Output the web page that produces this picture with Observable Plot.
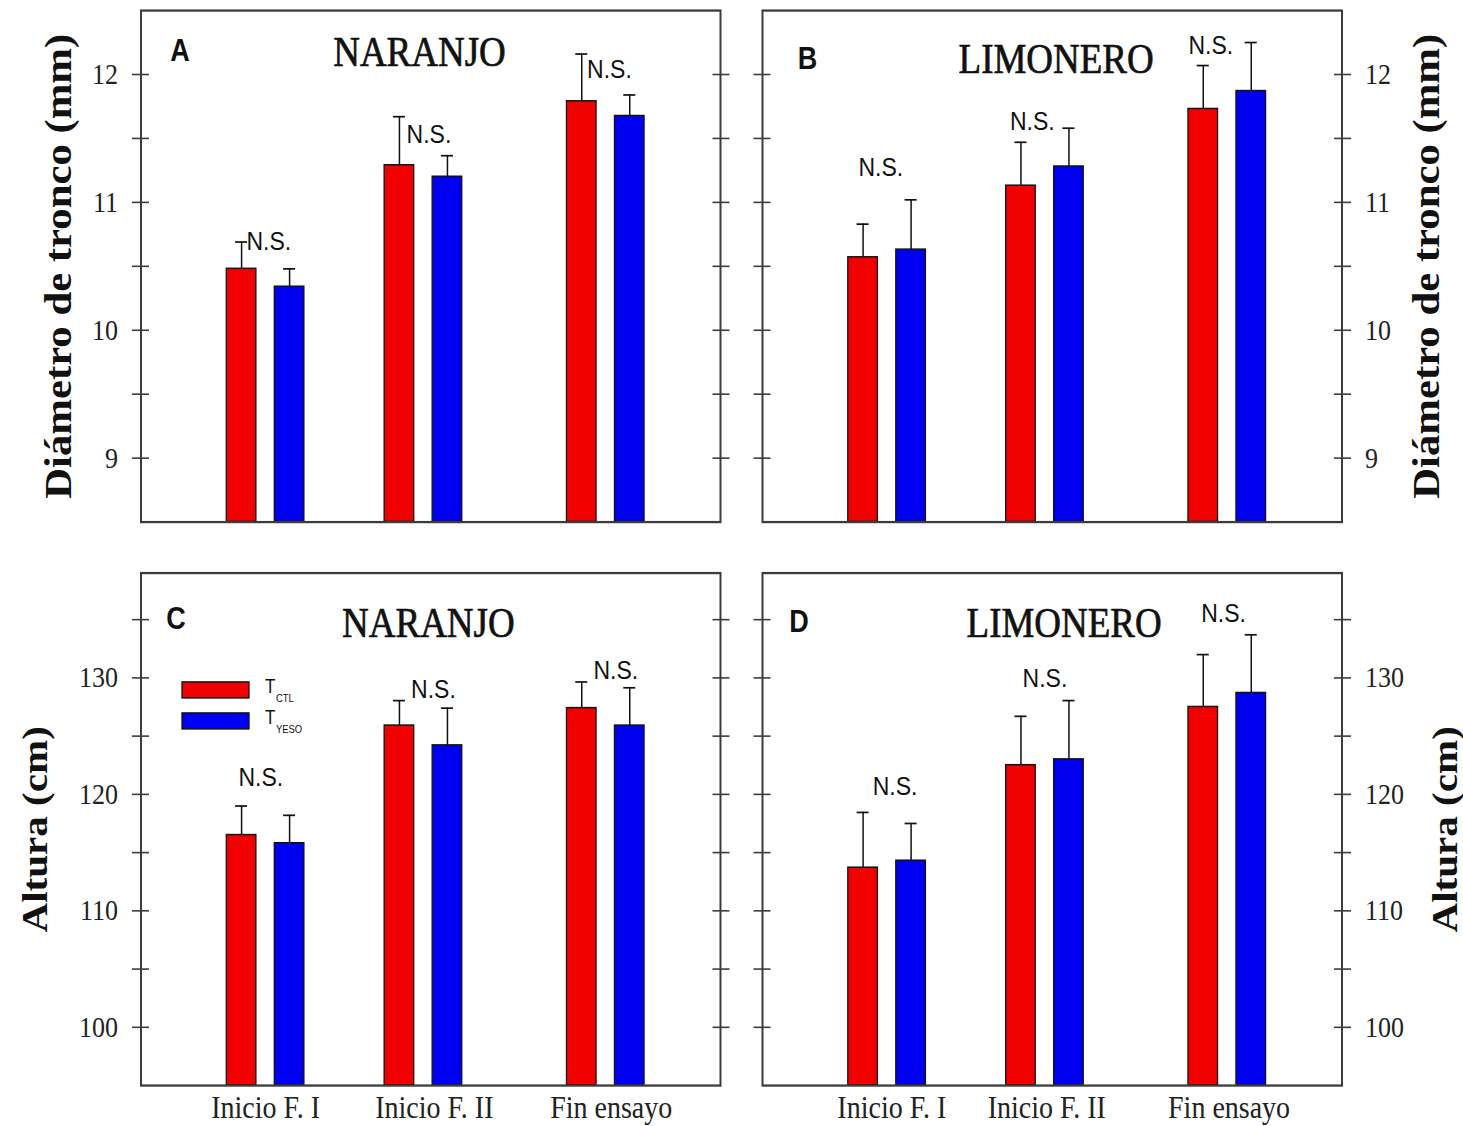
<!DOCTYPE html>
<html>
<head>
<meta charset="utf-8">
<script src="https://cdn.jsdelivr.net/npm/d3@7"></script>
<script src="https://cdn.jsdelivr.net/npm/@observablehq/plot@0.6"></script>
<style>
  html { margin: 0; padding: 0; background: #fff; overflow: hidden; }
  body { margin: 0; padding: 0; background: #fff; width: 1463px; height: 1126px; }
  /* the figure is laid out in a compressed coordinate system and stretched vertically */
  #fig { position: relative; width: 1463px; height: 987.7px; transform: scaleY(1.14); transform-origin: 0 0; }
  #fig > svg { position: absolute; overflow: visible; }
</style>
</head>
<body>
<div id="fig"></div>
<script>
// ---- categories ----
const etapas = ["Inicio F. I", "Inicio F. II", "Fin ensayo"];
// where each stage name sits along the stage axis in panels C and D
const etapaLabelC = [0, 1.06, 2.03];
const etapaLabelD = [0.03, 1.01, 2.01];

// ---- A: Naranjo, diámetro de tronco (mm) ----
const naranjoDiamCtl   = [10.48, 11.29, 11.79];
const naranjoDiamCtlSE = [0.21, 0.38, 0.37];
const naranjoDiamYeso  = [10.34, 11.20, 11.675];
const naranjoDiamYesoSE = [0.14, 0.165, 0.165];

// ---- B: Limonero, diámetro de tronco (mm) ----
const limoneroDiamCtl   = [10.57, 11.13, 11.73];
const limoneroDiamCtlSE = [0.26, 0.34, 0.34];
const limoneroDiamYeso  = [10.63, 11.28, 11.87];
const limoneroDiamYesoSE = [0.39, 0.30, 0.38];

// ---- C: Naranjo, altura (cm) ----
const naranjoAltCtl   = [116.5, 125.9, 127.4];
const naranjoAltCtlSE = [2.5, 2.15, 2.25];
const naranjoAltYeso  = [115.8, 124.2, 125.9];
const naranjoAltYesoSE = [2.4, 3.2, 3.25];

// ---- D: Limonero, altura (cm) ----
const limoneroAltCtl   = [113.7, 122.5, 127.5];
const limoneroAltCtlSE = [4.75, 4.2, 4.5];
const limoneroAltYeso  = [114.3, 123.0, 128.7];
const limoneroAltYesoSE = [3.2, 5.05, 5.0];

// ---- "N.S." annotations: anchor along the stage axis and height in data units ----
const nsA_x = [0.02, 1.03, 2.02],  nsA_y = [10.69, 11.53, 12.04];
const nsB_x = [-0.04, 0.92, 1.91], nsB_y = [11.27, 11.63, 12.23];
const nsC_x = [-0.03, 1.055, 2.055], nsC_y = [121.4, 129.0, 130.6];
const nsD_x = [0.05, 1.0, 1.98],   nsD_y = [120.7, 129.9, 135.5];

// ---- axis ticks ----
const diamDomain = [8.5, 12.5];
const diamTicksMinor = [9, 9.5, 10, 10.5, 11, 11.5, 12];
const diamTicksMajor = [9, 10, 11, 12];
const altDomain = [95, 139];
const altTicksMinor = [100, 105, 110, 115, 120, 125, 130, 135];
const altTicksMajor = [100, 110, 120, 130];

// ---- styling ----
const SERIF = "'Liberation Serif', 'Times New Roman', serif";
const SANS = "'Liberation Sans', Arial, sans-serif";
const RED = "#f00000", BLUE = "#0000f0", INK = "#111", FRAME = "#3c3c3c";
const BAR_W = 29.6, BAR_OFF = 24, CAP_W = 12;
const GROUP_FRAC = [0.215, 0.4874, 0.802]; // stage centres as a fraction of the frame width

const fig = document.getElementById("fig");

function series(values, se) {
  return etapas.map((e, i) => ({i, etapa: e, v: values[i], se: se[i]}));
}

function seriesMarks(data, fill, dx, ymin) {
  return [
    Plot.rect(data, {x1: "i", x2: "i", y1: () => ymin, y2: "v", fill, stroke: INK, strokeWidth: 1.3,
      insetLeft: -BAR_W / 2, insetRight: -BAR_W / 2, dx}),
    Plot.ruleX(data, {x: "i", y1: "v", y2: d => d.v + d.se, stroke: INK, strokeWidth: 1.5, dx}),
    Plot.ruleY(data, {y: d => d.v + d.se, x1: "i", x2: "i", stroke: INK, strokeWidth: 1.5,
      insetLeft: -CAP_W / 2, insetRight: -CAP_W / 2, dx})
  ];
}

function panel(cfg) {
  const {box, ctl, yeso, domain, minor, major, side, title, titleDx, titleSize, name, nameDx, nameDy,
         letter, letterDx, letterDy, nsX, nsY, labelAt} = cfg;
  const frameW = box.width - box.ml - box.mr;
  const xRange = GROUP_FRAC.map(f => box.ml + f * frameW);
  const ns = nsX.map((x, k) => ({x, y: nsY[k]}));
  const svg = Plot.plot({
    width: box.width, height: box.height,
    marginLeft: box.ml, marginRight: box.mr, marginTop: box.mt, marginBottom: box.mb,
    style: {background: "transparent", overflow: "visible"},
    x: labelAt ? {type: "linear", domain: [0, 1, 2], range: xRange}
               : {type: "linear", domain: [0, 1, 2], range: xRange, axis: null},
    y: {domain},
    marks: [
      ...seriesMarks(ctl, RED, -BAR_OFF, domain[0]),
      ...seriesMarks(yeso, BLUE, BAR_OFF, domain[0]),
      Plot.text(ns, {x: "x", y: "y", text: () => "N.S.", fontFamily: SANS, fontSize: 23, fill: INK}),
      Plot.frame({stroke: FRAME, strokeWidth: 2}),
      Plot.axisY({anchor: "left", ticks: minor, tickSize: 17, dx: 8.5, tickFormat: () => "",
        label: null, stroke: FRAME, strokeWidth: 1.4}),
      Plot.axisY({anchor: "right", ticks: minor, tickSize: 17, dx: -8.5, tickFormat: () => "",
        label: null, stroke: FRAME, strokeWidth: 1.4}),
      Plot.axisY({anchor: side, ticks: major, tickSize: 0, tickPadding: 23, fontSize: 26,
        tickFormat: d => String(d), fontFamily: SERIF, fill: "#222", label: null}),
      ...(labelAt ? [Plot.axisX({ticks: labelAt, tickFormat: d => etapas[labelAt.indexOf(d)],
        tickSize: 0, tickPadding: 9, fontSize: 28, fontFamily: SERIF, fill: "#222", label: null})] : []),
      Plot.text([title], {frameAnchor: side, dx: titleDx, rotate: -90, textAnchor: "middle",
        lineAnchor: "middle", fontSize: titleSize, fontWeight: "bold", fontFamily: SERIF, fill: INK}),
      Plot.text([name], {frameAnchor: "top", dx: nameDx, dy: nameDy, textAnchor: "middle",
        lineAnchor: "middle", fontSize: 37, fontFamily: SERIF, fill: INK, stroke: INK, strokeWidth: 0.6}),
      Plot.text([letter], {frameAnchor: "top-left", dx: letterDx, dy: letterDy, textAnchor: "middle",
        lineAnchor: "middle", fontSize: 27, fontWeight: "bold", fontFamily: SANS, fill: INK})
    ]
  });
  svg.style.left = box.left + "px";
  svg.style.top = box.top + "px";
  fig.appendChild(svg);
  return svg;
}

// ---- panel boxes (pre-stretch coordinates) ----
const topRow = {top: 0, height: 480, mt: 8.77, mb: 22.54};
const botRow = {top: 480, height: 507.7, mt: 22.19, mb: 35.95};
const leftCol = {left: 0, width: 740, ml: 140.5, mr: 20};
const rightCol = {left: 740, width: 723, ml: 22, mr: 121.5};

panel({
  box: {...leftCol, ...topRow},
  ctl: series(naranjoDiamCtl, naranjoDiamCtlSE), yeso: series(naranjoDiamYeso, naranjoDiamYesoSE),
  domain: diamDomain, minor: diamTicksMinor, major: diamTicksMajor, side: "left",
  title: "Diámetro de tronco (mm)", titleDx: -82.5, titleSize: 37.5,
  name: "NARANJO", nameDx: -11.25, nameDy: 37.1,
  letter: "A", letterDx: 39, letterDy: 36,
  nsX: nsA_x, nsY: nsA_y, labelAt: null
});

panel({
  box: {...rightCol, ...topRow},
  ctl: series(limoneroDiamCtl, limoneroDiamCtlSE), yeso: series(limoneroDiamYeso, limoneroDiamYesoSE),
  domain: diamDomain, minor: diamTicksMinor, major: diamTicksMajor, side: "right",
  title: "Diámetro de tronco (mm)", titleDx: 84.5, titleSize: 37.5,
  name: "LIMONERO", nameDx: 3.9, nameDy: 42.8,
  letter: "B", letterDx: 45, letterDy: 42.7,
  nsX: nsB_x, nsY: nsB_y, labelAt: null
});

const svgC = panel({
  box: {...leftCol, ...botRow},
  ctl: series(naranjoAltCtl, naranjoAltCtlSE), yeso: series(naranjoAltYeso, naranjoAltYesoSE),
  domain: altDomain, minor: altTicksMinor, major: altTicksMajor, side: "left",
  title: "Altura (cm)", titleDx: -105.5, titleSize: 36,
  name: "NARANJO", nameDx: -2.4, nameDy: 43.8,
  letter: "C", letterDx: 35, letterDy: 40.8,
  nsX: nsC_x, nsY: nsC_y, labelAt: etapaLabelC
});

panel({
  box: {...rightCol, ...botRow},
  ctl: series(limoneroAltCtl, limoneroAltCtlSE), yeso: series(limoneroAltYeso, limoneroAltYesoSE),
  domain: altDomain, minor: altTicksMinor, major: altTicksMajor, side: "right",
  title: "Altura (cm)", titleDx: 103.5, titleSize: 36,
  name: "LIMONERO", nameDx: 11.9, nameDy: 43.8,
  letter: "D", letterDx: 36.5, letterDy: 43.1,
  nsX: nsD_x, nsY: nsD_y, labelAt: etapaLabelD
});

// ---- treatment legend inside panel C ----
const legendItems = [
  {fill: RED, sub: "CTL"},
  {fill: BLUE, sub: "YESO"}
];
const lg = d3.select(svgC).append("g")
  .attr("font-family", SANS).attr("fill", INK).attr("text-anchor", "start");
legendItems.forEach((d, k) => {
  const y0 = 118.2 + k * 27.2;
  lg.append("rect").attr("x", 182).attr("y", y0).attr("width", 67).attr("height", 14)
    .attr("fill", d.fill).attr("stroke", INK).attr("stroke-width", 1.3);
  const t = lg.append("text").attr("x", 265).attr("y", y0 + 9.5).attr("font-size", 17).text("T");
  t.append("tspan").attr("dx", 0.5).attr("dy", 7.7).attr("font-size", 9.5).text(d.sub);
});
</script>
</body>
</html>
